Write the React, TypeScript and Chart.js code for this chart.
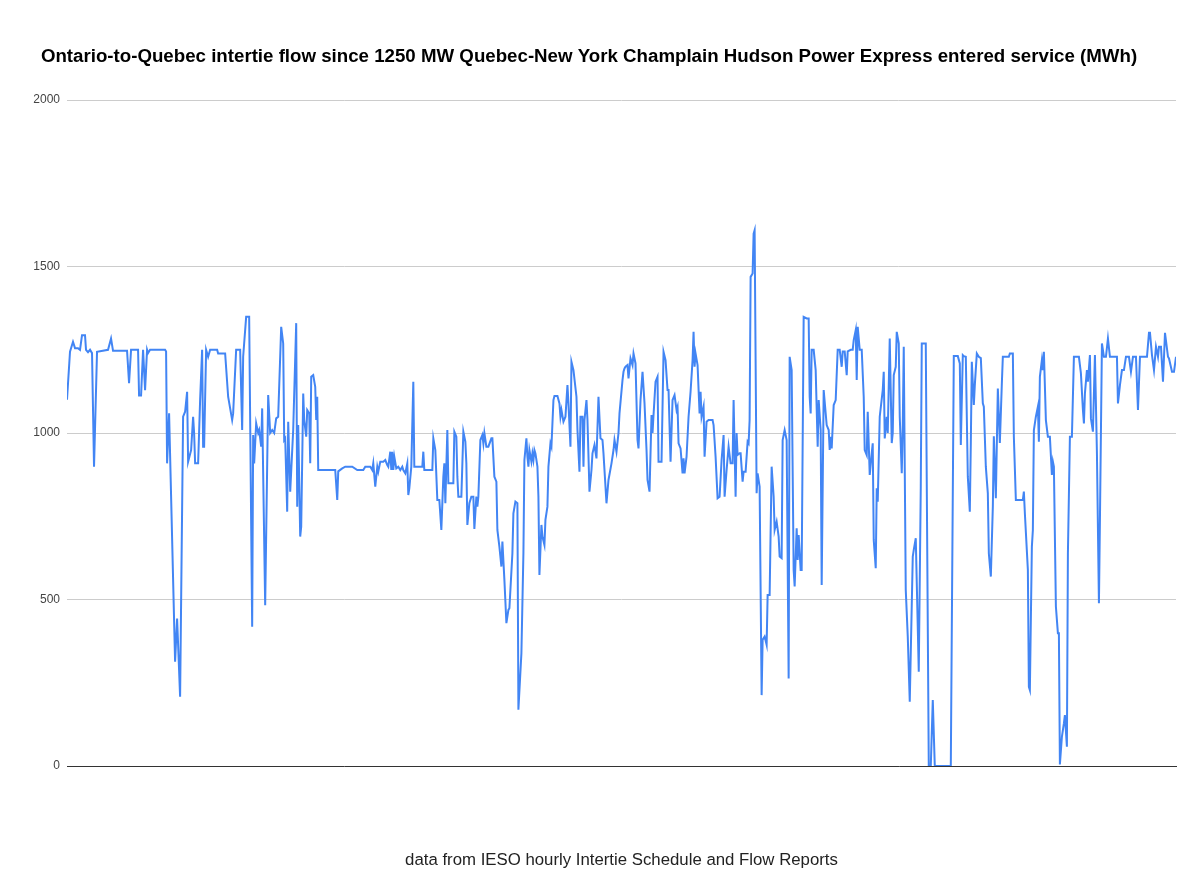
import React, { useEffect, useRef } from "react";
import { Chart, registerables } from "chart.js";

Chart.register(...registerables);

const TITLE =
  "Ontario-to-Quebec intertie flow since 1250 MW Quebec-New York Champlain Hudson Power Express entered service (MWh)";
const X_TITLE = "data from IESO hourly Intertie Schedule and Flow Reports";
const Y_TICKS = [0, 500, 1000, 1500, 2000];

// hour offset since the start of the period
const hours = [
  0, 3, 6, 8, 11, 13, 15, 18, 19, 21, 23, 25, 27, 30, 41, 44, 46, 60, 62, 64, 71, 72, 74, 76, 78, 80, 81, 83, 98, 99,
  100, 102, 108, 110, 113, 116, 118, 120, 121, 124, 126, 127, 128, 131, 133, 135, 136, 137, 139, 141, 143, 150, 151,
  158, 161, 165, 166, 169, 173, 175, 176, 179, 182, 185, 186, 187, 189, 191, 192, 194, 195, 198, 201, 203, 205, 207,
  209, 211, 214, 216, 217, 218, 220, 221, 223, 226, 229, 230, 231, 233, 234, 236, 237, 239, 240, 242, 243, 244, 246,
  248, 249, 250, 251, 268, 270, 271, 275, 278, 285, 290, 296, 298, 303, 305, 306, 308, 310, 311, 313, 316, 318, 320,
  321, 323, 324, 325, 326, 327, 329, 331, 333, 335, 336, 338, 340, 341, 342, 344, 346, 347, 355, 356, 357, 365, 366,
  368, 370, 372, 374, 376, 377, 378, 380, 381, 386, 387, 389, 390, 391, 394, 396, 398, 399, 400, 402, 404, 406, 407,
  409, 410, 411, 413, 415, 416, 417, 419, 421, 424, 425, 427, 429, 430, 432, 434, 435, 437, 439, 441, 442, 445, 446,
  448, 450, 451, 454, 456, 457, 459, 460, 461, 462, 464, 465, 466, 467, 468, 470, 471, 472, 474, 475, 477, 478, 480,
  481, 483, 484, 486, 487, 490, 492, 493, 494, 496, 498, 500, 501, 503, 504, 506, 509, 510, 512, 513, 515, 516, 517,
  519, 520, 522, 524, 525, 527, 529, 531, 533, 535, 536, 539, 541, 544, 546, 547, 549, 551, 552, 555, 556, 557, 558,
  560, 561, 563, 565, 566, 568, 570, 571, 573, 575, 577, 579, 580, 582, 584, 585, 586, 588, 590, 591, 594, 596, 598,
  600, 601, 603, 605, 607, 609, 610, 611, 613, 615, 616, 617, 619, 621, 623, 625, 626, 627, 628, 630, 632, 633, 634,
  636, 637, 639, 641, 645, 646, 648, 650, 652, 654, 656, 657, 659, 661, 663, 665, 666, 668, 669, 670, 672, 673, 675,
  676, 678, 680, 681, 682, 683, 685, 686, 687, 689, 690, 692, 694, 695, 697, 699, 700, 702, 704, 706, 707, 709, 711,
  712, 714, 715, 717, 719, 721, 722, 724, 726, 727, 729, 730, 731, 733, 734, 736, 739, 741, 742, 743, 744, 746, 748,
  750, 751, 753, 754, 756, 759, 761, 762, 763, 764, 766, 768, 770, 772, 774, 775, 777, 779, 780, 783, 785, 786, 788,
  789, 790, 792, 794, 796, 797, 799, 800, 802, 804, 805, 806, 808, 809, 810, 812, 815, 816, 817, 819, 820, 822, 824,
  825, 826, 828, 829, 831, 832, 834, 835, 836, 838, 840, 842, 845, 846, 848, 851, 853, 854, 858, 861, 863, 865, 867,
  883, 886, 890, 892, 893, 895, 896, 898, 900, 902, 903, 904, 906, 907, 909, 911, 913, 915, 916, 918, 920, 921, 923,
  925, 926, 928, 930, 932, 934, 935, 941, 942, 945, 946, 948, 955, 956, 957, 960, 961, 962, 964, 965, 966, 968, 970,
  971, 972, 974, 975, 976, 978, 980, 982, 984, 985, 986, 988, 990, 991, 992, 994, 996, 997, 999, 1000, 1002, 1004,
  1006, 1011, 1013, 1015, 1016, 1017, 1019, 1020, 1022, 1023, 1025, 1027, 1029, 1031, 1032, 1034, 1036, 1038, 1040,
  1042, 1049, 1050, 1052, 1054, 1056, 1058, 1061, 1063, 1065, 1068, 1070, 1072, 1079, 1081, 1082, 1084, 1086, 1088,
  1090, 1091, 1093, 1095, 1097, 1100, 1101, 1104, 1106, 1108,
];

// Ontario-to-Quebec flow (MWh)
const flows = [
  1100, 1244, 1274, 1255, 1255, 1250, 1294, 1294, 1250, 1243, 1250, 1240, 899, 1244, 1250, 1284, 1247, 1247, 1150, 1250,
  1250, 1113, 1113, 1250, 1129, 1250, 1240, 1250, 1250, 1245, 909, 1059, 313, 443, 208, 1049, 1064, 1124, 914, 949,
  1049, 1000, 909, 909, 1099, 1250, 959, 959, 1250, 1229, 1250, 1250, 1239, 1239, 1109, 1039, 1059, 1250, 1250, 1009,
  1229, 1349, 1349, 418, 994, 909, 1029, 1000, 1009, 959, 1074, 483, 1114, 1000, 1009, 1000, 1044, 1049, 1319, 1269,
  979, 984, 764, 1034, 824, 1009, 1330, 779, 1024, 689, 719, 1119, 1039, 989, 1069, 1059, 909, 1169, 1174, 1139, 1039,
  1109, 889, 889, 799, 885, 894, 899, 899, 889, 889, 899, 899, 889, 909, 839, 899, 884, 914, 914, 919, 904, 899, 944,
  889, 944, 889, 929, 894, 899, 889, 899, 889, 879, 909, 814, 834, 899, 1154, 899, 899, 944, 889, 889, 984, 949, 799,
  799, 709, 869, 909, 789, 1009, 849, 849, 1004, 989, 869, 809, 809, 1004, 974, 909, 724, 789, 809, 809, 712, 809, 779,
  809, 979, 994, 969, 1000, 959, 959, 984, 984, 869, 854, 709, 659, 599, 674, 559, 429, 469, 474, 639, 759, 794, 789,
  169, 339, 639, 919, 984, 929, 899, 949, 914, 939, 919, 949, 939, 899, 809, 574, 724, 689, 664, 739, 779, 899, 969,
  959, 1099, 1111, 1111, 1089, 1049, 1069, 1034, 1049, 1144, 1089, 959, 1214, 1189, 1109, 1009, 884, 1049, 1049, 899,
  1039, 1099, 1039, 824, 889, 939, 964, 924, 1109, 984, 979, 939, 789, 859, 909, 949, 979, 944, 1000, 1059, 1159, 1184,
  1194, 1199, 1204, 1164, 1224, 1204, 1239, 1209, 979, 954, 1099, 1184, 1089, 949, 859, 824, 1054, 1000, 1054, 1154,
  1169, 914, 914, 1244, 1219, 1129, 1129, 914, 1099, 1114, 1069, 1079, 969, 954, 879, 924, 879, 929, 1049, 1124, 1219,
  1304, 1199, 1239, 1204, 1059, 1124, 1049, 1079, 929, 1034, 1039, 1039, 1024, 929, 804, 809, 919, 994, 809, 889, 959,
  909, 909, 1099, 809, 1000, 934, 939, 939, 854, 884, 884, 974, 969, 1039, 1469, 1479, 1599, 1609, 819, 879, 839, 213,
  379, 389, 364, 514, 514, 899, 809, 709, 734, 689, 629, 624, 979, 1009, 979, 263, 1229, 1189, 589, 539, 714, 619, 694,
  589, 589, 1349, 1344, 1344, 1109, 1059, 1250, 1250, 1189, 959, 1099, 1009, 544, 1129, 1024, 1009, 949, 989, 954,
  1084, 1099, 1250, 1250, 1199, 1245, 1245, 1174, 1245, 1250, 1250, 1279, 1309, 1159, 1319, 1250, 1250, 1109, 949, 934,
  1064, 874, 939, 969, 679, 594, 834, 794, 1049, 1129, 1184, 984, 1049, 1000, 1284, 970, 1000, 1174, 1199, 1304, 1269,
  1049, 879, 1019, 1259, 529, 389, 193, 629, 649, 684, 283, 839, 1269, 1269, 0, 0, 198, 0, 0, 1231, 1231, 1209, 964,
  1234, 1231, 1229, 869, 764, 970, 1214, 1084, 1144, 1239, 1229, 1225, 1089, 1079, 899, 819, 639, 569, 779, 990, 804,
  1134, 970, 1149, 1229, 1229, 1239, 1239, 989, 799, 799, 824, 759, 589, 238, 228, 659, 709, 1009, 1049, 1079, 974,
  1169, 1219, 1189, 1244, 1039, 989, 989, 874, 914, 899, 479, 399, 399, 5, 88, 128, 153, 58, 639, 989, 989, 1229, 1229,
  1179, 1069, 1029, 1119, 1189, 1154, 1234, 1044, 1004, 1234, 939, 489, 739, 1269, 1229, 1229, 1284, 1229, 1229, 1089,
  1144, 1189, 1189, 1229, 1229, 1184, 1229, 1229, 1069, 1229, 1229, 1301, 1301, 1234, 1189, 1259, 1229, 1259, 1259,
  1154, 1301, 1229, 1224, 1184, 1184, 1229,
];

const FONT = "'Liberation Sans', Arial, Helvetica, sans-serif";

export default function App() {
  const canvasRef = useRef<HTMLCanvasElement | null>(null);

  useEffect(() => {
    document.body.style.margin = "0";
    const canvas = canvasRef.current;
    if (!canvas) return;
    const points = hours.map((h, i) => ({ x: h, y: flows[i] }));
    const chart = new Chart(canvas, {
      type: "line",
      data: {
        datasets: [
          {
            label: "Ontario-to-Quebec flow",
            data: points,
            borderColor: "#4285F4",
            backgroundColor: "#4285F4",
            borderWidth: 2,
            pointRadius: 0,
            tension: 0,
          },
        ],
      },
      options: {
        animation: false,
        responsive: true,
        maintainAspectRatio: false,
        layout: { padding: { left: 2, right: 24, top: 0, bottom: 14 } },
        plugins: {
          legend: { display: false },
          tooltip: { enabled: false },
          title: {
            display: true,
            text: TITLE,
            color: "#000",
            font: { family: FONT, size: 18.7, weight: "bold" },
            padding: { top: 46, bottom: 31.6 },
          },
        },
        scales: {
          x: {
            type: "linear",
            min: hours[0],
            max: hours[hours.length - 1],
            ticks: { display: false },
            grid: { display: false, drawTicks: false },
            border: { display: true, color: "#333", width: 1 },
            title: {
              display: true,
              text: X_TITLE,
              color: "#222",
              font: { family: FONT, size: 16.8 },
              padding: { top: 83.8, bottom: 4 },
            },
          },
          y: {
            min: Y_TICKS[0],
            max: Y_TICKS[Y_TICKS.length - 1],
            afterBuildTicks: (axis: any) => {
              axis.ticks = Y_TICKS.map((v) => ({ value: v }));
            },
            afterFit: (axis: any) => {
              axis.width = 65;
            },
            ticks: {
              color: "#444",
              padding: 7,
              font: { family: FONT, size: 12 },
              callback: (v: any) => String(v),
            },
            grid: { color: "#cccccc", drawTicks: false },
            border: { display: false },
          },
        },
      },
    });
    return () => chart.destroy();
  }, []);

  return (
    <div style={{ width: 1200, height: 888, position: "relative", background: "#fff" }}>
      <canvas ref={canvasRef} />
    </div>
  );
}
